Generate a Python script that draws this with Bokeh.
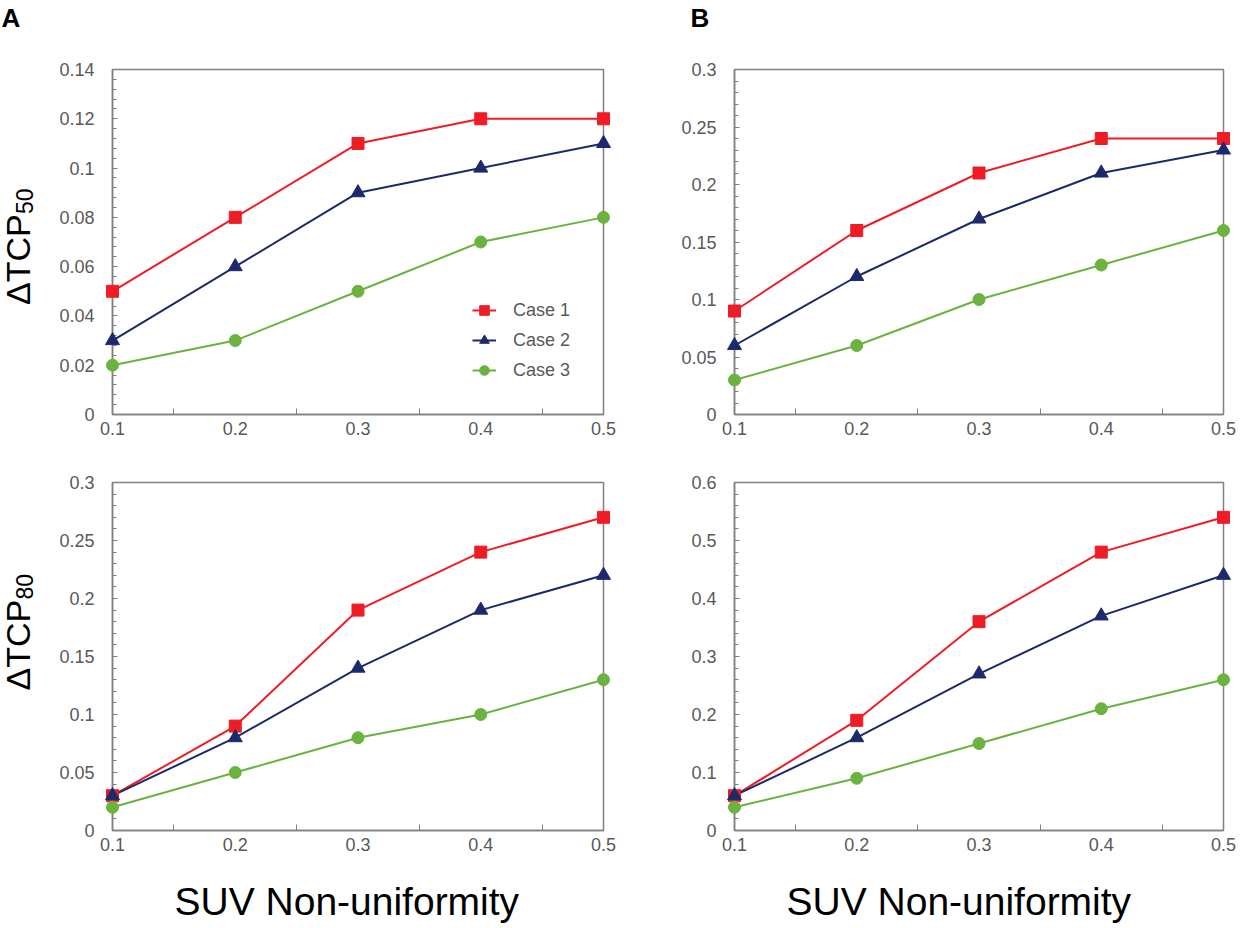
import numpy as np
from bokeh.plotting import figure
from bokeh.layouts import row, column
from bokeh.models import (FixedTicker, CustomJSTickFormatter, Legend, Label,
                          LegendItem, Range1d, Title)
from bokeh.embed import file_html
from bokeh.resources import INLINE

# ---------------- data ----------------
suv_nonuniformity = [0.1, 0.2, 0.3, 0.4, 0.5]
case_names = ["Case 1", "Case 2", "Case 3"]

# Panel A, top (ΔTCP50)
a_tcp50_case1 = [0.05, 0.08, 0.11, 0.12, 0.12]
a_tcp50_case2 = [0.03, 0.06, 0.09, 0.10, 0.11]
a_tcp50_case3 = [0.02, 0.03, 0.05, 0.07, 0.08]
# Panel B, top (ΔTCP50)
b_tcp50_case1 = [0.09, 0.16, 0.21, 0.24, 0.24]
b_tcp50_case2 = [0.06, 0.12, 0.17, 0.21, 0.23]
b_tcp50_case3 = [0.03, 0.06, 0.10, 0.13, 0.16]
# Panel A, bottom (ΔTCP80)
a_tcp80_case1 = [0.03, 0.09, 0.19, 0.24, 0.27]
a_tcp80_case2 = [0.03, 0.08, 0.14, 0.19, 0.22]
a_tcp80_case3 = [0.02, 0.05, 0.08, 0.10, 0.13]
# Panel B, bottom (ΔTCP80)
b_tcp80_case1 = [0.06, 0.19, 0.36, 0.48, 0.54]
b_tcp80_case2 = [0.06, 0.16, 0.27, 0.37, 0.44]
b_tcp80_case3 = [0.04, 0.09, 0.15, 0.21, 0.26]

x_ticks = [0.1, 0.2, 0.3, 0.4, 0.5]
x_minor_ticks = [0.15, 0.25, 0.35, 0.45]
a_tcp50_yticks = [0, 0.02, 0.04, 0.06, 0.08, 0.1, 0.12, 0.14]
b_tcp50_yticks = [0, 0.05, 0.1, 0.15, 0.2, 0.25, 0.3]
a_tcp80_yticks = [0, 0.05, 0.1, 0.15, 0.2, 0.25, 0.3]
b_tcp80_yticks = [0, 0.1, 0.2, 0.3, 0.4, 0.5, 0.6]

x_title = "SUV Non-uniformity"
y_title_main = "ΔTCP"
y_title_sub_top = "50"
y_title_sub_bottom = "80"

# ---------------- styles ----------------
COLORS = ["#EE1D25", "#1C2A6B", "#6BB23F"]
MARKERS = ["square", "triangle", "circle"]
MSIZES = [12, 14, 12]
FRAME = "#808080"
TICKTXT = "#595959"
FONT = "Liberation Sans"

fmt = CustomJSTickFormatter(code="return (Math.round(tick*10000)/10000).toString();")

LABEL_W = 45


def make_panel(w, h, bl, br, bt, bb, yticks, minor_step, series, legend=False):
    ymax = yticks[-1]
    p = figure(width=w, height=h, output_backend="svg", toolbar_location=None,
               x_range=Range1d(x_ticks[0], x_ticks[-1]), y_range=Range1d(yticks[0], ymax),
               min_border_left=bl, min_border_right=br, min_border_top=bt, min_border_bottom=bb,
               background_fill_color="white", border_fill_color="white")
    p.grid.visible = False
    p.outline_line_color = FRAME
    p.outline_line_width = 1.5

    p.xaxis.ticker = FixedTicker(ticks=x_ticks, minor_ticks=x_minor_ticks)
    p.yaxis.ticker = FixedTicker(ticks=yticks,
                                 minor_ticks=list(np.round(np.arange(0, ymax + 1e-9, minor_step), 6)))
    for ax in (p.xaxis[0], p.yaxis[0]):
        ax.formatter = fmt
        ax.axis_line_color = FRAME
        ax.axis_line_width = 1.5
        ax.major_tick_line_color = FRAME
        ax.minor_tick_line_color = FRAME
        ax.major_label_text_font = FONT
        ax.major_label_text_font_size = "18px"
        ax.major_label_text_color = TICKTXT
    p.xaxis.major_tick_in = 0
    p.xaxis.major_tick_out = 0
    p.xaxis.minor_tick_in = 6
    p.xaxis.minor_tick_out = 0
    p.xaxis.major_label_standoff = 7
    p.yaxis.major_tick_in = 5
    p.yaxis.major_tick_out = 0
    p.yaxis.minor_tick_in = 4
    p.yaxis.minor_tick_out = 0
    p.yaxis.major_label_standoff = 18

    items = []
    for name, vals, c, m, s in zip(case_names, series, COLORS, MARKERS, MSIZES):
        lr = p.line(suv_nonuniformity, vals, line_color=c, line_width=2)
        sr = p.scatter(suv_nonuniformity, vals, marker=m, size=s, fill_color=c,
                       line_color=c, level="overlay")
        items.append(LegendItem(label=name, renderers=[lr, sr]))
    if legend:
        lg = Legend(items=items, location=(360, 32), orientation="vertical",
                    glyph_width=24, glyph_height=24, label_height=24, spacing=6,
                    label_standoff=17, padding=0, margin=0,
                    border_line_color=None, background_fill_alpha=0,
                    label_text_font=FONT, label_text_font_size="18px",
                    label_text_color=TICKTXT)
        p.add_layout(lg, "center")
    return p


def label_strip(h, bt, bb, sub, y_off):
    """narrow figure on the left carrying the rotated y title with a real subscript"""
    f = figure(width=LABEL_W, height=h, output_backend="svg", toolbar_location=None,
               x_range=Range1d(0, LABEL_W), y_range=Range1d(0, 1),
               x_axis_type=None, y_axis_type=None,
               min_border_left=0, min_border_right=0, min_border_top=bt, min_border_bottom=bb,
               background_fill_color="white", border_fill_color="white")
    f.grid.visible = False
    f.outline_line_color = None
    f.add_layout(Label(x=17, y=0.5, y_offset=y_off, text=y_title_main, angle=np.pi / 2,
                       text_align="left", text_baseline="alphabetic",
                       text_font=FONT, text_font_size="34px", text_color="black"))
    f.add_layout(Label(x=24, y=0.5, y_offset=y_off + 91, text=sub, angle=np.pi / 2,
                       text_align="left", text_baseline="alphabetic",
                       text_font=FONT, text_font_size="23px", text_color="black"))
    return f


def panel_letter(p, letter, off):
    # spacer title next to the frame, then the letter further out
    p.add_layout(Title(text=" ", text_font_size="1px", standoff=34), "above")
    p.add_layout(Title(text=letter, align="left", offset=off, standoff=0,
                       text_font=FONT, text_font_size="26px", text_font_style="bold",
                       text_color="black"), "above")


def xtitle(p, off):
    p.add_layout(Title(text=" ", text_font_size="1px", standoff=21), "below")
    p.add_layout(Title(text=x_title, align="left", offset=off, standoff=0,
                       text_font=FONT, text_font_size="39px", text_font_style="normal",
                       text_color="black"), "below")


# top row: frames y 69..414 ; bottom row: frames y 482..830
TOP_H, BOT_H = 446, 481
lab_top = label_strip(TOP_H, 69, 32, y_title_sub_top, -63)
tl = make_panel(668 - LABEL_W, TOP_H, 112 - LABEL_W, 65, 69, 32, a_tcp50_yticks, 0.004,
                [a_tcp50_case1, a_tcp50_case2, a_tcp50_case3], legend=True)
tr = make_panel(568, TOP_H, 66, 13, 69, 32, b_tcp50_yticks, 0.01,
                [b_tcp50_case1, b_tcp50_case2, b_tcp50_case3])
lab_bot = label_strip(BOT_H, 36, 97, y_title_sub_bottom, -34)
bl = make_panel(668 - LABEL_W, BOT_H, 112 - LABEL_W, 65, 36, 97, a_tcp80_yticks, 0.01,
                [a_tcp80_case1, a_tcp80_case2, a_tcp80_case3])
br = make_panel(568, BOT_H, 66, 13, 36, 97, b_tcp80_yticks, 0.02,
                [b_tcp80_case1, b_tcp80_case2, b_tcp80_case3])

panel_letter(lab_top, "A", 1)
panel_letter(tr, "B", -44)
xtitle(bl, 62)
xtitle(br, 52)

p = column(row(lab_top, tl, tr), row(lab_bot, bl, br))

open("out.html", "w").write(file_html(p, INLINE))
